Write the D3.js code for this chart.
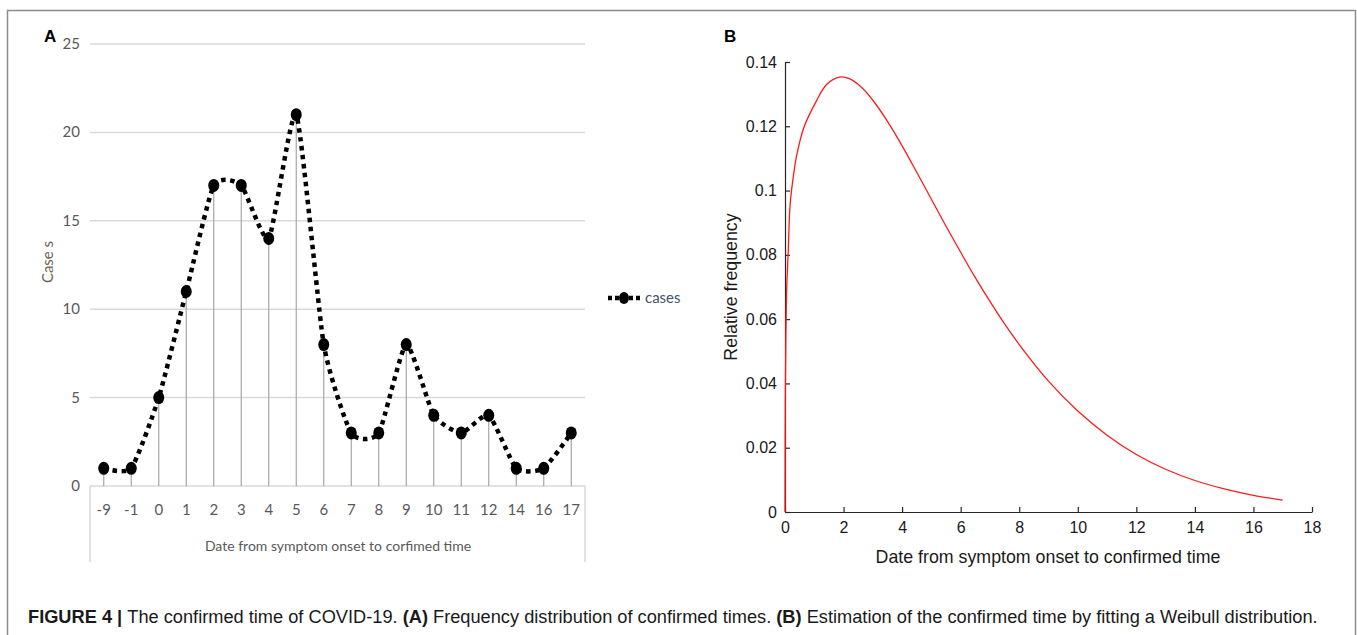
<!DOCTYPE html>
<html>
<head>
<meta charset="utf-8">
<script src="https://cdn.jsdelivr.net/npm/d3@7"></script>
<style>
  body { margin: 0; background: #fff; }
  svg { display: block; }
</style>
</head>
<body>
<div id="chart"></div>
<script>
// figure size
const width = 1357;
const height = 635;

// panel A data
const days = ["-9", "-1", "0", "1", "2", "3", "4", "5", "6", "7", "8", "9", "10", "11", "12", "14", "16", "17"];
const cases = [1, 1, 5, 11, 17, 17, 14, 21, 8, 3, 3, 8, 4, 3, 4, 1, 1, 3];
const caseTicks = [0, 5, 10, 15, 20, 25];

// panel B data
const fitDays = [0, 0.01, 0.03, 0.06, 0.11, 0.17, 0.25, 0.4, 0.66, 1.08, 1.42, 1.85, 2.2, 2.6, 3, 3.5, 4, 4.5, 5, 5.5, 6, 6.5, 7, 7.5, 8, 9, 10, 11, 12, 13, 14, 15, 16, 17];
const fitFreq = [0, 0.035, 0.055, 0.07, 0.081, 0.095, 0.102, 0.111, 0.12, 0.128, 0.133, 0.1353, 0.1348, 0.1322, 0.1281, 0.1215, 0.1139, 0.1057, 0.0973, 0.0889, 0.0808, 0.0729, 0.0655, 0.0585, 0.0521, 0.0407, 0.0314, 0.0239, 0.0179, 0.0133, 0.0098, 0.0072, 0.0052, 0.0037];
const dayTicks = [0, 2, 4, 6, 8, 10, 12, 14, 16, 18];
const freqTicks = [0, 0.02, 0.04, 0.06, 0.08, 0.1, 0.12, 0.14];

const svg = d3.select("#chart")
    .append("svg")
    .attr("width", width)
    .attr("height", height);

// outer figure frame
svg.append("rect")
    .attr("x", 7.5).attr("y", 10.5)
    .attr("width", 1348).attr("height", 640)
    .attr("fill", "none")
    .attr("stroke", "#8c8c8c")
    .attr("stroke-width", 1.5);

// ---------- panel A ----------
const excelFont = "Lato, 'Open Sans', sans-serif";
const xA = d3.scaleBand().domain(days).range([90, 585]);
const yA = d3.scaleLinear().domain([0, 25]).range([486, 44]);
const gA = svg.append("g");

// gridlines
gA.selectAll("line.grid")
    .data(caseTicks)
    .enter().append("line")
    .attr("class", "grid")
    .attr("x1", 90).attr("x2", 585)
    .attr("y1", d => yA(d)).attr("y2", d => yA(d))
    .attr("stroke", "#d9d9d9")
    .attr("stroke-width", 1.5);

// box sides under the category axis
[90, 585].forEach(x => {
    gA.append("line")
        .attr("x1", x).attr("x2", x)
        .attr("y1", yA(0)).attr("y2", 562)
        .attr("stroke", "#d9d9d9")
        .attr("stroke-width", 1.5);
});

// y tick labels
gA.selectAll("text.ytick")
    .data(caseTicks)
    .enter().append("text")
    .attr("class", "ytick")
    .attr("x", 80)
    .attr("y", d => yA(d) + 5)
    .attr("text-anchor", "end")
    .attr("font-family", excelFont)
    .attr("font-size", 15)
    .attr("fill", "#595959")
    .text(d => d);

// x tick labels
const cx = d => xA(d) + xA.bandwidth() / 2;
gA.selectAll("text.xtick")
    .data(days)
    .enter().append("text")
    .attr("class", "xtick")
    .attr("x", d => cx(d))
    .attr("y", 515)
    .attr("text-anchor", "middle")
    .attr("font-family", excelFont)
    .attr("font-size", 15)
    .attr("fill", "#595959")
    .text(d => d);

gA.append("text")
    .attr("x", 338).attr("y", 551)
    .attr("text-anchor", "middle")
    .attr("font-family", excelFont)
    .attr("font-size", 14)
    .attr("fill", "#595959")
    .text("Date from symptom onset to corfimed time");

gA.append("text")
    .attr("transform", "translate(53,262) rotate(-90)")
    .attr("text-anchor", "middle")
    .attr("font-family", excelFont)
    .attr("font-size", 15)
    .attr("fill", "#6e6352")
    .text("Case s");

// drop lines
gA.selectAll("line.drop")
    .data(days)
    .enter().append("line")
    .attr("class", "drop")
    .attr("x1", d => cx(d)).attr("x2", d => cx(d))
    .attr("y1", (d, i) => yA(cases[i])).attr("y2", yA(0))
    .attr("stroke", "#a6a6a6")
    .attr("stroke-width", 1.2);

// smoothed dotted line (excel style smoothing)
const lineA = d3.line()
    .x((d, i) => cx(days[i]))
    .y(d => yA(d))
    .curve(d3.curveCardinal.tension(0.45));

gA.append("path")
    .datum(cases)
    .attr("d", lineA)
    .attr("fill", "none")
    .attr("stroke", "#000")
    .attr("stroke-width", 4.5)
    .attr("stroke-dasharray", "4.5,4.5");

gA.selectAll("ellipse.pt")
    .data(cases)
    .enter().append("ellipse")
    .attr("class", "pt")
    .attr("cx", (d, i) => cx(days[i]))
    .attr("cy", d => yA(d))
    .attr("rx", 5.5)
    .attr("ry", 6.5)
    .attr("fill", "#000");

// legend
const lg = gA.append("g").attr("transform", "translate(608,298)");
lg.append("line")
    .attr("x1", 0).attr("x2", 32).attr("y1", 0).attr("y2", 0)
    .attr("stroke", "#000").attr("stroke-width", 4.5)
    .attr("stroke-dasharray", "4,3");
lg.append("ellipse")
    .attr("cx", 16).attr("cy", 0).attr("rx", 5).attr("ry", 6)
    .attr("fill", "#000");
lg.append("text")
    .attr("x", 37).attr("y", 5)
    .attr("font-family", excelFont)
    .attr("font-size", 15)
    .attr("fill", "#44546a")
    .text("cases");

svg.append("text")
    .attr("x", 44).attr("y", 42)
    .attr("font-family", "'Liberation Sans', Arial, sans-serif")
    .attr("font-weight", "bold")
    .attr("font-size", 17)
    .text("A");

// ---------- panel B ----------
const matFont = "'Liberation Sans', Arial, sans-serif";
const xB = d3.scaleLinear().domain([0, 18]).range([785, 1312]);
const yB = d3.scaleLinear().domain([0, 0.14]).range([512, 62]);
const gB = svg.append("g");

const axisX = gB.append("g")
    .attr("transform", `translate(0,${yB(0)})`)
    .call(d3.axisBottom(xB).tickValues(dayTicks).tickSizeInner(-5).tickSizeOuter(0).tickPadding(10).tickFormat(d3.format("d")));
const axisY = gB.append("g")
    .attr("transform", `translate(${xB(0)},0)`)
    .call(d3.axisLeft(yB).tickValues(freqTicks).tickSizeInner(-5).tickSizeOuter(0).tickPadding(8).tickFormat(d => d === 0 ? "0" : String(+d.toFixed(2))));

[axisX, axisY].forEach(ax => {
    ax.select(".domain").attr("stroke", "#262626").attr("stroke-width", 1.2);
    ax.selectAll(".tick line").attr("stroke", "#262626").attr("stroke-width", 1.2);
    ax.selectAll(".tick text")
        .attr("font-family", matFont)
        .attr("font-size", 16)
        .attr("fill", "#1a1a1a");
});

gB.append("path")
    .datum(fitFreq)
    .attr("d", d3.line()
        .x((d, i) => xB(fitDays[i]))
        .y(d => yB(d))
        .curve(d3.curveCatmullRom.alpha(0.5)))
    .attr("fill", "none")
    .attr("stroke", "#ff1a1a")
    .attr("stroke-width", 1.3);

gB.append("text")
    .attr("x", 1048).attr("y", 563)
    .attr("text-anchor", "middle")
    .attr("font-family", matFont)
    .attr("font-size", 17.8)
    .attr("fill", "#1a1a1a")
    .text("Date from symptom onset to confirmed time");

gB.append("text")
    .attr("transform", "translate(737,287) rotate(-90)")
    .attr("text-anchor", "middle")
    .attr("font-family", matFont)
    .attr("font-size", 17.8)
    .attr("fill", "#1a1a1a")
    .text("Relative frequency");

svg.append("text")
    .attr("x", 724).attr("y", 42)
    .attr("font-family", matFont)
    .attr("font-weight", "bold")
    .attr("font-size", 17)
    .text("B");

// ---------- caption ----------
const cap = svg.append("text")
    .attr("x", 28).attr("y", 623)
    .attr("font-family", matFont)
    .attr("font-size", 16)
    .attr("fill", "#1a1a1a");
cap.append("tspan").attr("font-weight", "bold").text("FIGURE 4 | ");
cap.append("tspan").text("The confirmed time of COVID-19. ");
cap.append("tspan").attr("font-weight", "bold").text("(A)");
cap.append("tspan").text(" Frequency distribution of confirmed times. ");
cap.append("tspan").attr("font-weight", "bold").text("(B)");
cap.append("tspan").text(" Estimation of the confirmed time by fitting a Weibull distribution.");

// fit caption width to the figure
const capLen = cap.node().getComputedTextLength();
cap.attr("font-size", 16 * 1290 / capLen);
</script>
</body>
</html>
